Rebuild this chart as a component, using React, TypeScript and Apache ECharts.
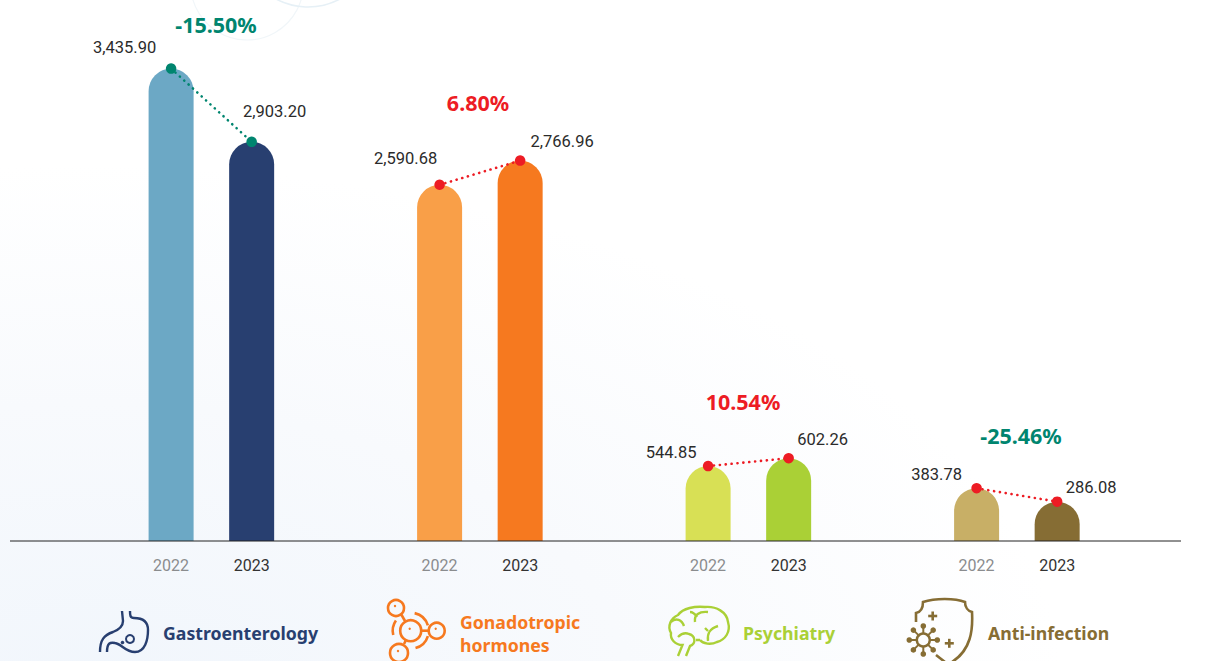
import React, { useEffect, useRef } from "react";
import * as echarts from "echarts";

const years = ["2022", "2023"];
const groupNames = ["Gastroenterology", "Gonadotropic\nhormones", "Psychiatry", "Anti-infection"];
const values2022 = [3435.9, 2590.68, 544.85, 383.78];
const values2023 = [2903.2, 2766.96, 602.26, 286.08];
const changes = ["-15.50%", "6.80%", "10.54%", "-25.46%"];

const colors2022 = ["#6ca8c5", "#f99f48", "#d8e055", "#c8af66"];
const colors2023 = ["#283f70", "#f6791f", "#aad036", "#866d34"];
const dotColors = ["#00856f", "#ed1c24", "#ed1c24", "#ed1c24"];
const changeColors = ["#00856f", "#ed1c24", "#ed1c24", "#00856f"];
const nameColors = ["#283f70", "#f6791f", "#aad036", "#866d34"];

const SLOTS = 44;
const firstSlot = 6;
const groupStep = 10;
const pairStep = 3;

const labelOffsets2022 = [[-46.5, -7.5], [-34, -13], [-37, 0], [-40, 0]];
const labelOffsets2023 = [[23, -17], [42, -5.5], [34, -5], [34, 0]];
const changePos = [[216, 24], [478, 102], [743, 401], [1021, 435]];
const namePos = [[163, 633], [460, 633], [743, 633], [988, 633]];

const fmt = (v: number) => v.toLocaleString("en-US", { minimumFractionDigits: 2, maximumFractionDigits: 2 });
const numFont = "Roboto, sans-serif";
const boldFont = "'Noto Sans', sans-serif";

const stomachD =
  "M122 611 L123 621 C123 627 118 630 113 632 C104 635 100 640 100 652 M107 652 C107 643 110 642 115 643 C122 644 125 652 135 652 C145 652 148 640 148 630 C148 620 140 618 134 618 C130 618 130 615 130 611";
const brainD =
  "M678 656 L682.5 645 C675 645 670 639 671 633 C667 626 671 618 678 615 C683 608 695 606 705 607 C716 606 727 612 728 622 C731 632 725 640 717 642 C711 645 703 644 700 640 M686 656 L690 646 C696 644 696 636 689 634 C684 632 680 635 678 637 M696 640 L700 640 M708 641 C707 634 709 629 718 626 M708 631 L705 628 M671 622 C676 617 682 620 684 626 M695 622 C694 615 699 611 708 612 M697 617 C695 614 693 612 690 612";
const shieldD =
  "M916 622 L916 613 C921 612 923 608 923 602 C935 598 955 598 965 602 C965 607 968 611 972 612 C973 630 971 650 952 662 M936 655 L945 662";
echarts.graphic.registerShape("stomachIcon", echarts.graphic.extendPath(stomachD, {}));
echarts.graphic.registerShape("brainIcon", echarts.graphic.extendPath(brainD, {}));
echarts.graphic.registerShape("shieldIcon", echarts.graphic.extendPath(shieldD, {}));

function icons(): any[] {
  const ln = (c: string, w = 2) => ({ fill: "none", stroke: c, lineWidth: w });
  const out: any[] = [];
  const navy = nameColors[0], or = nameColors[1], lime = nameColors[2], br = nameColors[3];
  out.push({ type: "stomachIcon", style: ln(navy, 2.4) });
  out.push({ type: "circle", shape: { cx: 130, cy: 639, r: 4 }, style: ln(navy, 2) });
  out.push({ type: "circle", shape: { cx: 122.5, cy: 642.5, r: 1.8 }, style: { fill: navy } });
  // molecule
  const mols = [[396, 608, 8], [410.7, 630.7, 10.5], [436.7, 630.7, 8], [399, 653, 9]];
  mols.forEach(([cx, cy, r]) => {
    out.push({ type: "circle", shape: { cx, cy, r }, style: ln(or, 2.6) });
    out.push({ type: "circle", shape: { cx: cx - 1, cy: cy - 2, r: 1.2 }, style: { fill: or } });
  });
  [[401, 614, 405, 621], [421, 630.7, 429, 630.7], [404, 644, 406, 640]].forEach(([x1, y1, x2, y2]) =>
    out.push({ type: "line", shape: { x1, y1, x2, y2 }, style: ln(or, 2.6) }));
  [[-1.35, -0.3], [0.3, 1.3], [2.9, 3.75]].forEach(([s, e]) =>
    out.push({ type: "arc", shape: { cx: 410.7, cy: 630.7, r: 18, startAngle: s, endAngle: e, clockwise: true }, style: ln(or, 2.6) }));
  // brain
  out.push({ type: "brainIcon", style: ln(lime, 2.4) });
  // shield
  out.push({ type: "shieldIcon", style: ln(br, 2.6) });
  const vx = 923.3, vy = 640;
  out.push({ type: "circle", shape: { cx: vx, cy: vy, r: 6.5 }, style: ln(br, 2.4) });
  for (let i = 0; i < 8; i++) {
    const a = (i * Math.PI) / 4;
    out.push({ type: "line", shape: { x1: vx + 6.5 * Math.cos(a), y1: vy + 6.5 * Math.sin(a), x2: vx + 14 * Math.cos(a), y2: vy + 14 * Math.sin(a) }, style: ln(br, 2) });
    out.push({ type: "circle", shape: { cx: vx + 14 * Math.cos(a), cy: vy + 14 * Math.sin(a), r: 2.8 }, style: { fill: br } });
  }
  [[932.7, 616], [949.3, 643.3]].forEach(([x, y]) => {
    out.push({ type: "line", shape: { x1: x - 4.5, y1: y, x2: x + 4.5, y2: y }, style: ln(br, 2.6) });
    out.push({ type: "line", shape: { x1: x, y1: y - 4.5, x2: x, y2: y + 4.5 }, style: ln(br, 2.6) });
  });
  return out;
}

export default function App() {
  const ref = useRef<HTMLDivElement>(null);
  useEffect(() => {
    const chart = echarts.init(ref.current!, undefined, { renderer: "svg" });
    const cats: string[] = Array(SLOTS).fill("");
    const barData: any[] = Array(SLOTS).fill(null);
    const lineSeries: any[] = [];
    values2022.forEach((v, i) => {
      const a = firstSlot + i * groupStep;
      const b = a + pairStep;
      cats[a] = years[0];
      cats[b] = years[1];
      barData[a] = { value: v, itemStyle: { color: colors2022[i] } };
      barData[b] = { value: values2023[i], itemStyle: { color: colors2023[i] } };
      const data: any[] = Array(SLOTS).fill(null);
      const lab = (off: number[]) => ({
        show: true, position: "top", distance: 0, offset: off, color: "#2b2b2b", fontSize: 16.5, fontFamily: numFont,
        formatter: (p: any) => fmt(p.value),
      });
      data[a] = { value: v, label: lab(labelOffsets2022[i]) };
      data[b] = { value: values2023[i], label: lab(labelOffsets2023[i]) };
      lineSeries.push({
        type: "line", data, connectNulls: true, symbol: "circle", symbolSize: 10.5, z: 5,
        itemStyle: { color: dotColors[i] },
        lineStyle: { color: dotColors[i], width: 2.6, type: [0.1, 5.8], cap: "round" },
      });
    });
    const texts: any[] = [
      ...changes.map((t, i) => ({
        type: "text", x: changePos[i][0], y: changePos[i][1],
        style: { text: t, fill: changeColors[i], fontSize: 21.5, fontWeight: 700, fontFamily: boldFont, align: "center", verticalAlign: "middle" },
      })),
      ...groupNames.map((t, i) => ({
        type: "text", x: namePos[i][0], y: namePos[i][1],
        style: { text: t, fill: nameColors[i], fontSize: 17.7, lineHeight: 23, fontWeight: 700, fontFamily: boldFont, align: "left", verticalAlign: "middle" },
      })),
    ];
    chart.setOption({
      animation: false,
      grid: { left: 10, top: 0, width: 43 * 26.85, height: 541, containLabel: false },
      xAxis: {
        type: "category", data: cats, boundaryGap: false,
        axisLine: { show: false }, axisTick: { show: false },
        axisLabel: {
          interval: 0, margin: 16, fontSize: 16, fontFamily: numFont,
          color: (v: string) => (v === years[0] ? "#8a8c8e" : "#333333"),
        },
      },
      yAxis: { type: "value", min: 0, max: 3935, show: false, splitLine: { show: false } },
      series: [
        { type: "bar", data: barData, barWidth: 45, itemStyle: { borderRadius: [22.5, 22.5, 0, 0] }, z: 2 },
        ...lineSeries,
      ],
      graphic: [
        { type: "rect", z: -10, silent: true, shape: { x: 0, y: 0, width: 1209, height: 661 },
          style: { fill: new echarts.graphic.RadialGradient(0.08, 1.05, 0.8, [{ offset: 0, color: "#f1f6fc" }, { offset: 0.55, color: "#f8fafd" }, { offset: 1, color: "#ffffff" }]) } },
        { type: "circle", z: -9, shape: { cx: 247, cy: -16.5, r: 56.5 }, style: { fill: "none", stroke: "#f1f6f9", lineWidth: 1.2 } },
        { type: "circle", z: -9, shape: { cx: 308, cy: -61, r: 68 }, style: { fill: "none", stroke: "#e6f0f6", lineWidth: 1.6 } },
        { type: "line", z: 20, shape: { x1: 10, y1: 541, x2: 1181, y2: 541 }, style: { stroke: "#222222", lineWidth: 1 } },
        ...texts,
        ...icons(),
      ],
    });
    return () => chart.dispose();
  }, []);
  return <div ref={ref} style={{ position: "absolute", left: 0, top: 0, width: 1209, height: 661, background: "#fff" }} />;
}
